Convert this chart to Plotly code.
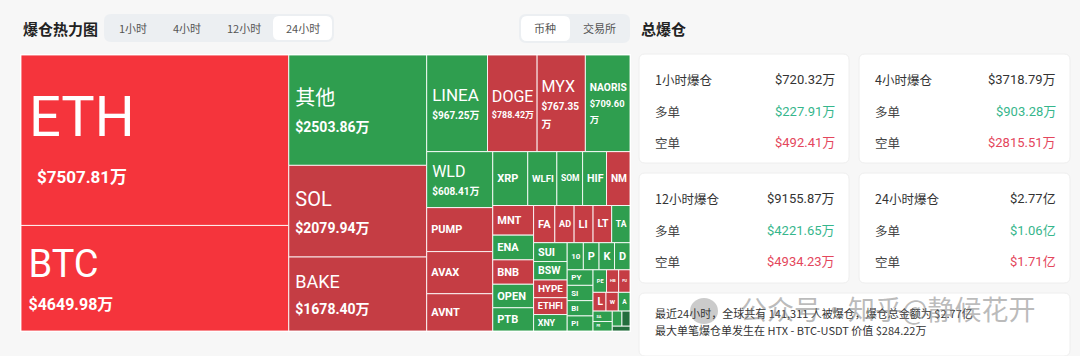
import plotly.graph_objects as go

# ---------------- data ----------------
coins = ["ETH", "BTC", "其他", "SOL", "BAKE", "LINEA", "DOGE", "MYX", "NAORIS", "WLD",
         "XRP", "WLFI", "SOMI", "HIFI", "NMR", "PUMP", "AVAX", "AVNT",
         "MNT", "ENA", "BNB", "OPEN", "PTB", "FARTCOIN", "ADA", "LINK", "LTC", "TAO",
         "SUI", "BSW", "HYPE", "ETHFI", "XNY", "1000PEPE", "PENGU", "KAITO", "DOT",
         "PYTH", "SIGN", "BIO", "PIPPIN", "PENDLE", "HBAR", "PUFFER", "LDO", "WIF",
         "APT", "SAND", "PROVE", "ARB", "ONDO", "TRUMP"]
values_wan = [7507.81, 4649.98, 2503.86, 2079.94, 1678.40, 967.25, 788.42, 767.35, 709.60, 608.41,
              310, 258, 228, 212, 208, 478, 458, 405,
              199, 166, 164, 158, 156, 130, 118, 116, 114, 112,
              104, 102, 98, 93, 91, 72, 70, 69, 69,
              66, 65, 65, 64, 50, 45, 42, 40, 38,
              36, 33, 30, 24, 20, 14]
# dominant side of liquidations: X = top short (bright red), S = short, L = long, D = long (dark)
sides = ["X", "X", "L", "S", "S", "L", "S", "S", "L", "L",
         "L", "L", "L", "L", "S", "S", "S", "S",
         "S", "L", "S", "L", "L", "S", "S", "S", "S", "L",
         "L", "L", "S", "S", "L", "L", "L", "L", "L",
         "L", "L", "L", "L", "L", "S", "S", "S", "S",
         "L", "L", "L", "L", "D", "D"]
# label as it is visible in the tile (long names are cut off by the tile edge)
shown = ["ETH", "BTC", "其他", "SOL", "BAKE", "LINEA", "DOGE", "MYX", "NAORIS", "WLD",
         "XRP", "WLFI", "SOM", "HIF", "NM", "PUMP", "AVAX", "AVNT",
         "MNT", "ENA", "BNB", "OPEN", "PTB", "FA", "AD", "LI", "LT", "TA",
         "SUI", "BSW", "HYPE", "ETHFI", "XNY", "10", "P", "K", "D",
         "PY", "SI", "BI", "PI", "PE", "HB", "PU", "L", "W",
         "A", "SA", "PR", "", "", ""]
n_with_value = 10

cards = [
    ("1小时爆仓", "$720.32万", "$227.91万", "$492.41万"),
    ("4小时爆仓", "$3718.79万", "$903.28万", "$2815.51万"),
    ("12小时爆仓", "$9155.87万", "$4221.65万", "$4934.23万"),
    ("24小时爆仓", "$2.77亿", "$1.06亿", "$1.71亿"),
]
summary_lines = ["最近24小时，全球共有 141,311 人被爆仓，爆仓总金额为 $2.77亿",
                 "最大单笔爆仓单发生在 HTX - BTC-USDT 价值 $284.22万"]
time_tabs = ["1小时", "4小时", "12小时", "24小时"]
group_tabs = ["币种", "交易所"]

# ---------------- style ----------------
W, H = 1080, 356
FONT = "Roboto, 'Noto Sans CJK SC', sans-serif"
CJK = "'Noto Sans CJK SC', sans-serif"
side_color = {"X": "#f5343c", "S": "#c53d44", "L": "#2f9e4f", "D": "#236e3d"}
GREEN_TXT = "#36b68c"
RED_TXT = "#e4465c"
NB = "\u00a0"

# name size, value size, base (line spacing) size, name indent px, value indent px
big_style = {
    "ETH": (56, 17, 36, 20, 52), "BTC": (38, 16, 25, 18, 18), "其他": (20, 14, 21, 14, 14),
    "SOL": (20, 14, 21, 14, 14), "BAKE": (18, 14, 20, 14, 14), "LINEA": (17, 10, 14, 10, 10),
    "DOGE": (18, 10, 14, 6, 6), "MYX": (16, 10, 14, 6, 6), "NAORIS": (11, 10, 13, 6, 6),
    "WLD": (16, 10, 14, 10, 10),
}


def indent(px):
    # one non-breaking space is about a quarter of its font size wide
    return f"<span style='font-size:{px}px'>{NB}</span>"


texts, sizes = [], []
for i, (c, v, s) in enumerate(zip(coins, values_wan, shown)):
    if i < n_with_value:
        ns, vs, bs, ni, vi = big_style[c]
        val = f"${v:.2f}万"
        if c in ("MYX", "NAORIS"):
            val = f"${v:.2f}<br>{indent(vi)}万"
        name = f"<b>{s}</b>" if c == "NAORIS" else s
        t = (f"{indent(ni)}<span style='font-size:{ns}px'>{name}</span><br>"
             f"{indent(vi)}<b><span style='font-size:{vs}px'>{val}</span></b>")
        texts.append(t)
        sizes.append(bs)
    else:
        texts.append(f"{indent(6)}<b>{s}</b>" if s else "")
        sizes.append(11)

root = "全部"
fig = go.Figure(go.Treemap(
    labels=[root] + coins,
    parents=[""] + [root] * len(coins),
    values=[0] + values_wan,
    branchvalues="remainder",
    sort=True,
    texttemplate=[""] + texts,
    textposition="middle left",
    textfont=dict(family=FONT, color="white", size=[11] + sizes),
    marker=dict(colors=["white"] + [side_color[s] for s in sides],
                line=dict(color="rgba(255,255,255,0.85)", width=1),
                pad=dict(t=0, l=0, r=0, b=0)),
    tiling=dict(squarifyratio=1.618, pad=0),
    pathbar=dict(visible=False),
    hoverinfo="label+value",
    domain=dict(x=[21 / W, 630 / W], y=[1 - 331 / H, 1 - 55 / H]),
))

shapes, annos = [], []


def rrect(x0, y0, x1, y1, r, fill, line="rgba(0,0,0,0)"):
    p = (f"M{x0+r},{y0} L{x1-r},{y0} Q{x1},{y0} {x1},{y0+r} L{x1},{y1-r} Q{x1},{y1} {x1-r},{y1} "
         f"L{x0+r},{y1} Q{x0},{y1} {x0},{y1-r} L{x0},{y0+r} Q{x0},{y0} {x0+r},{y0} Z")
    shapes.append(dict(type="path", path=p, xref="x", yref="y", fillcolor=fill,
                       line=dict(color=line, width=1), layer="below"))


def txt(x, y, s, size=12, color="#333", anchor="left", bold=False, font=CJK):
    annos.append(dict(x=x, y=y, xref="x", yref="y", text=f"<b>{s}</b>" if bold else s,
                      showarrow=False, xanchor=anchor, yanchor="middle",
                      font=dict(family=font, size=size, color=color)))


# treemap backing panel
shapes.append(dict(type="rect", x0=20, y0=54, x1=631, y1=332, xref="x", yref="y",
                   fillcolor="white", line=dict(width=0), layer="below"))

# header left
txt(21, 28, "爆仓热力图", 15, "#222", bold=True)
rrect(104, 14, 334, 42, 7, "#eceff2")
rrect(273, 16, 332, 40, 6, "white")
for label, cx in zip(time_tabs, [133, 187, 244, 303]):
    txt(cx, 28, label, 11, "#555", anchor="center")

# header right
rrect(519, 14, 630, 43, 7, "#eceff2")
rrect(521, 16, 570, 41, 6, "white")
for label, cx in zip(group_tabs, [545, 599]):
    txt(cx, 28, label, 11, "#555", anchor="center")
txt(639, 28, "总爆仓", 15, "#222", bold=True)

# cards
card_boxes = [(639, 54, 849, 163), (859, 54, 1070, 163), (639, 173, 849, 283), (859, 173, 1070, 283)]
for (x0, y0, x1, y1), (title, total, long_v, short_v) in zip(card_boxes, cards):
    rrect(x0, y0, x1, y1, 6, "white", "#eeeeee")
    lx, rx = x0 + 14, x1 - 12
    txt(lx, y0 + 25, title, 12.5, "#333")
    txt(rx, y0 + 25, total, 13, "#333", anchor="right", font=FONT)
    txt(lx, y0 + 57, "多单", 12.5, "#444")
    txt(rx, y0 + 57, long_v, 13, GREEN_TXT, anchor="right", font=FONT)
    txt(lx, y0 + 88, "空单", 12.5, "#444")
    txt(rx, y0 + 88, short_v, 13, RED_TXT, anchor="right", font=FONT)

rrect(639, 293, 1070, 356, 6, "white", "#eeeeee")
txt(653, 313, summary_lines[0], 11, "#333")
txt(653, 330, summary_lines[1], 11, "#333")

# watermark overlay
shapes.append(dict(type="circle", x0=690, y0=298, x1=718, y1=324, xref="x", yref="y",
                   fillcolor="rgba(140,140,140,0.45)", line=dict(width=0)))
txt(738, 308, "公众号·知乎@静候花开", 27, "rgba(120,120,120,0.5)")

fig.update_layout(
    width=W, height=H, margin=dict(l=0, r=0, t=0, b=0),
    paper_bgcolor="#f7f7f7", plot_bgcolor="rgba(0,0,0,0)",
    xaxis=dict(range=[0, W], visible=False, fixedrange=True, domain=[0, 1]),
    yaxis=dict(range=[H, 0], visible=False, fixedrange=True, domain=[0, 1]),
    shapes=shapes, annotations=annos, showlegend=False,
    font=dict(family=FONT),
)
fig.write_html("out.html", config={"displayModeBar": False},
               post_script="document.body.style.margin='0';document.body.style.overflow='hidden';"
                           "document.body.style.background='#f7f7f7';")
